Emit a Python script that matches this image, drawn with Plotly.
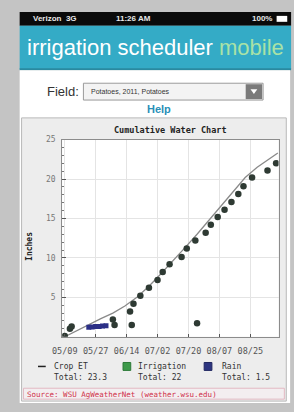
import plotly.graph_objects as go

W, H = 294, 412
def X(p): return p / W
def Y(p): return 1 - p / H

# ---------------- data ----------------
x_ticks = ["2011-05-09", "2011-05-27", "2011-06-14", "2011-07-02",
           "2011-07-20", "2011-08-07", "2011-08-25"]
x_tick_labels = ["05/09", "05/27", "06/14", "07/02", "07/20", "08/07", "08/25"]
y_ticks = [5, 10, 15, 20, 25]

et_dates = ["2011-05-09", "2011-05-16", "2011-05-23", "2011-05-30", "2011-06-06",
            "2011-06-13", "2011-06-20", "2011-06-27", "2011-07-04", "2011-07-11",
            "2011-07-18", "2011-07-25", "2011-08-01", "2011-08-08", "2011-08-15",
            "2011-08-22", "2011-08-29", "2011-09-05", "2011-09-10"]
et_values = [0.0, 0.8, 1.6, 2.3, 3.0, 3.9, 5.0, 6.4, 8.0, 9.6,
             11.3, 13.0, 14.8, 16.6, 18.4, 20.2, 21.5, 22.5, 23.3]

irr_dates = ["2011-05-09", "2011-05-12", "2011-05-13", "2011-06-06", "2011-06-07",
             "2011-06-16", "2011-06-17", "2011-06-18", "2011-06-22", "2011-06-27",
             "2011-07-02", "2011-07-05", "2011-07-09", "2011-07-16", "2011-07-19",
             "2011-07-24", "2011-07-25", "2011-07-30", "2011-08-02", "2011-08-06",
             "2011-08-10", "2011-08-14", "2011-08-18", "2011-08-21", "2011-08-26",
             "2011-09-04", "2011-09-09"]
irr_values = [0.1, 1.0, 1.3, 2.2, 1.5, 3.2, 1.5, 4.2, 5.2, 6.2,
              7.2, 8.2, 9.2, 10.1, 11.2, 12.2, 1.7, 13.2, 14.2, 15.2,
              16.1, 17.1, 18.1, 19.1, 20.2, 21.1, 22.0]

rain_dates = ["2011-05-23", "2011-05-25", "2011-05-27", "2011-05-29", "2011-05-31", "2011-06-02"]
rain_values = [1.2, 1.25, 1.3, 1.3, 1.35, 1.4]

series_names = ["Crop ET", "Irrigation", "Rain"]
series_totals = ["23.3", "22", "1.5"]

# ---------------- figure ----------------
MONO = "DejaVu Sans Mono"
SANS = "Liberation Sans"

fig = go.Figure()
fig.add_trace(go.Scatter(x=et_dates, y=et_values, mode="lines",
                         line=dict(color="#8a8a8a", width=1.3), name=series_names[0]))
fig.add_trace(go.Scatter(x=irr_dates, y=irr_values, mode="markers",
                         marker=dict(color="#2e3a33", size=6.5), name=series_names[1]))
fig.add_trace(go.Scatter(x=rain_dates, y=rain_values, mode="markers",
                         marker=dict(color="#2b2f86", size=5, symbol="square"),
                         name=series_names[2]))

shapes = []
def rect(x0, y0, x1, y1, fill, line=None, lw=0):
    shapes.append(dict(type="rect", xref="paper", yref="paper",
                       x0=X(x0), x1=X(x1), y0=Y(y1), y1=Y(y0),
                       fillcolor=fill, line=dict(color=line or fill, width=lw),
                       layer="below"))

# page background pieces
rect(10, 8, 291, 22, "#0a0a0a")            # status bar
rect(10, 22, 291, 66, "#34abc6")           # header
rect(10, 65, 291, 67, "#2a8aa0")
rect(10, 67, 290, 403, "#ffffff")          # page
# dropdown
rect(76, 80, 262, 97, "#f3f3f3", "#9a9a9a", 1)
rect(244, 81, 261, 96, "#7a7a7a")
shapes.append(dict(type="path", xref="paper", yref="paper",
                   path=f"M {X(249)},{Y(86)} L {X(256)},{Y(86)} L {X(252.5)},{Y(91)} Z",
                   fillcolor="#ffffff", line=dict(width=0), layer="below"))
# chart box
rect(12, 115, 286, 401, "#ededed", "#b8b8b8", 1)
rect(54, 137, 278, 336, "#ffffff")
# source box
rect(14, 388, 284, 399, "#f3eef0", "#e2b9c3", 1)
# battery
rect(276, 12, 287, 18, "#ffffff")

# legend marks
shapes.append(dict(type="line", xref="paper", yref="paper",
                   x0=X(29), x1=X(37), y0=Y(366), y1=Y(366),
                   line=dict(color="#222", width=1.5)))
rect(117, 362, 125, 370, "#3d9a4a", "#2d7a38", 1)
rect(201, 362, 209, 370, "#2d3580", "#202660", 1)

fig.update_layout(shapes=shapes)

ann = []
def text(x, y, s, size, color="#222", family=MONO, anchor="left", bold=False, angle=0):
    ann.append(dict(xref="paper", yref="paper", x=X(x), y=Y(y),
                    text=f"<b>{s}</b>" if bold else s, showarrow=False,
                    xanchor=anchor, yanchor="middle", textangle=angle,
                    font=dict(size=size, color=color, family=family)))

text(22, 15, "Verizon  3G", 8, "#e8e8e8", SANS, bold=True)
text(128, 15, "11:26 AM", 8, "#e8e8e8", SANS, "center", bold=True)
text(273, 15, "100%", 8, "#e8e8e8", SANS, "right", bold=True)
text(151, 44, "irrigation scheduler <span style='color:#a9e2a6'>mobile</span>",
     22, "#ffffff", SANS, "center")
text(36, 88, "Field:", 13, "#333333", SANS)
text(82, 88.5, "Potatoes, 2011, Potatoes", 7, "#333333", SANS)
text(154, 106, "Help", 11, "#2a8fb7", SANS, "center", bold=True)
text(166, 127, "Cumulative Water Chart", 8.5, "#222222", MONO, "center", bold=True)
text(20, 245, "Inches", 8, "#222222", MONO, "center", bold=True, angle=-90)

# legend text
legend_x = [43, 130, 217]
for i, (nm, tot) in enumerate(zip(series_names, series_totals)):
    text(legend_x[i], 366, nm, 8, "#333333")
    text(legend_x[i], 377, f"Total: {tot}", 8, "#333333")

text(16, 394, "Source: WSU AgWeatherNet (weather.wsu.edu)", 7.5, "#d0304a", MONO)

fig.update_layout(annotations=ann)

fig.update_layout(
    width=W, height=H,
    margin=dict(l=0, r=0, t=0, b=0),
    paper_bgcolor="#c4c4c4",
    plot_bgcolor="#ffffff",
    showlegend=False,
    xaxis=dict(type="date", domain=[X(54), X(278)],
               range=["2011-05-07 12:00", "2011-09-10 10:00"],
               tickvals=x_ticks, ticktext=x_tick_labels,
               ticks="inside", ticklen=3, tickcolor="#555",
               showgrid=True, gridcolor="#e4e4e4", gridwidth=1,
               showline=True, linecolor="#8c8c8c", linewidth=1, mirror=True,
               zeroline=False, ticklabelstandoff=6,
               tickfont=dict(family=MONO, size=8.5, color="#555555"),
               fixedrange=True),
    yaxis=dict(domain=[Y(336), Y(137)], range=[0, 25],
               tickvals=y_ticks, ticks="inside", ticklen=4, tickcolor="#555",
               minor=dict(dtick=1, ticks="inside", ticklen=2, tickcolor="#777",
                          showgrid=False),
               showgrid=True, gridcolor="#e4e4e4", gridwidth=1,
               showline=True, linecolor="#8c8c8c", linewidth=1, mirror=True,
               zeroline=False, ticklabelstandoff=4,
               tickfont=dict(family=MONO, size=8, color="#777777"),
               fixedrange=True),
)

post = (
    "document.documentElement.style.margin='0px';"
    "document.documentElement.style.padding='0px';"
    "document.body.style.margin='0px';"
    "document.body.style.padding='0px';"
    "document.body.style.overflow='hidden';"
    "var d=document.getElementById('{plot_id}');"
    "var p=d.parentElement; p.style.position='absolute'; p.style.left='0px'; p.style.top='0px';"
    "p.style.margin='0px'; p.style.padding='0px';"
)
fig.write_html("out.html", config={"displayModeBar": False}, post_script=post)
